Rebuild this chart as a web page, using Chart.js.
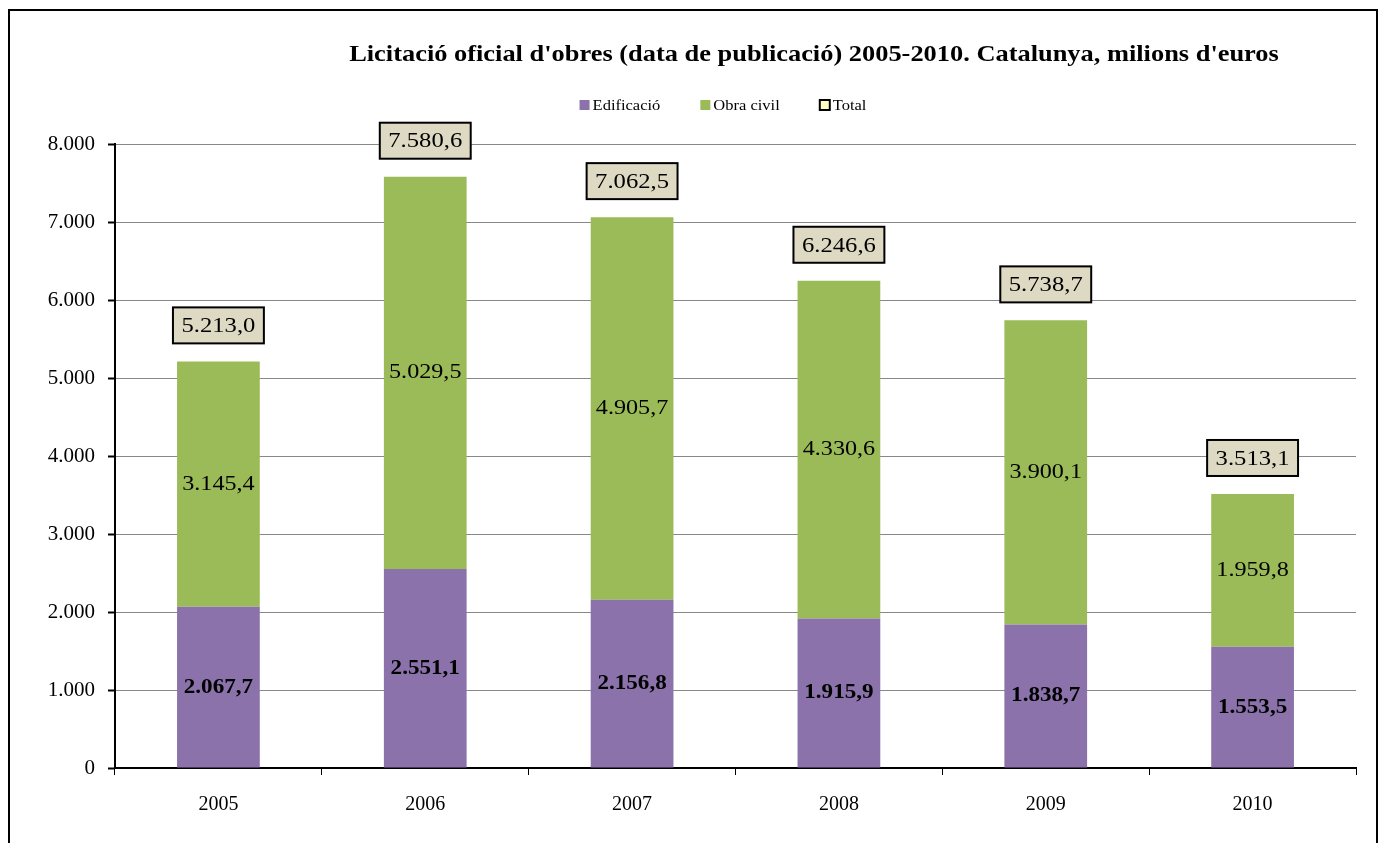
<!DOCTYPE html>
<html><head><meta charset="utf-8">
<script src="https://cdn.jsdelivr.net/npm/chart.js@4/dist/chart.umd.min.js"></script>
<style>html,body{margin:0;padding:0;background:#fff;}#wrap{position:relative;width:1384px;height:843px;}</style>
</head><body><div id="wrap"><canvas id="c" width="1384" height="843"></canvas></div>
<script>
const TITLE = "Licitació oficial d'obres (data de publicació) 2005-2010. Catalunya, milions d'euros";
const categories = ['2005', '2006', '2007', '2008', '2009', '2010'];
const edificacio = [2067.7, 2551.1, 2156.8, 1915.9, 1838.7, 1553.5];
const obraCivil = [3145.4, 5029.5, 4905.7, 4330.6, 3900.1, 1959.8];
const total = [5213.0, 7580.6, 7062.5, 6246.6, 5738.7, 3513.1];
const seriesNames = ['Edificació', 'Obra civil', 'Total'];
const yMin = 0, yMax = 8000, yStep = 1000;

const SERIF = "'Liberation Serif', 'Times New Roman', serif";
const PURPLE = '#8B72AB', GREEN = '#9BBB59', BOXFILL = '#DDD9C3', LEGTOTAL = '#FFFFC4';

function fmtInt(v) { return String(Math.round(v)).replace(/\B(?=(\d{3})+(?!\d))/g, '.'); }
function fmt1(v) { const p = v.toFixed(1).split('.'); return fmtInt(+p[0]) + ',' + p[1]; }

// draws text stretched horizontally (the original chart's text is slightly widened)
function wideText(ctx, t, x, y, sx) {
  ctx.save(); ctx.translate(x, y); ctx.scale(sx, 1); ctx.fillText(t, 0, 0); ctx.restore();
}

const decor = {
  id: 'decor',
  beforeDraw(chart) {
    const ctx = chart.ctx;
    ctx.save();
    ctx.fillStyle = '#fff';
    ctx.fillRect(0, 0, chart.width, chart.height);
    ctx.strokeStyle = '#000'; ctx.lineWidth = 2;
    ctx.strokeRect(9, 10, 1368, 900);
    // title
    ctx.fillStyle = '#000';
    ctx.font = 'bold 24px ' + SERIF;
    ctx.textAlign = 'center'; ctx.textBaseline = 'middle';
    wideText(ctx, TITLE, 814, 55, 1.1);
    // legend
    const sx = 1.1;
    ctx.font = '15px ' + SERIF;
    const ds = chart.data.datasets;
    const box = 10, gap = 3, sp = 40;
    const widths = ds.map(d => box + gap + ctx.measureText(d.label).width * sx);
    const tot = widths.reduce((a, b) => a + b, 0) + sp * (ds.length - 1);
    let x = 723 - tot / 2; const y = 105;
    ctx.textAlign = 'left';
    ds.forEach((d, i) => {
      if (i === 2) {
        ctx.fillStyle = LEGTOTAL; ctx.fillRect(x, y - 5, box, box);
        ctx.lineWidth = 2; ctx.strokeStyle = '#000'; ctx.strokeRect(x, y - 5, box, box);
      } else {
        ctx.fillStyle = d.backgroundColor; ctx.fillRect(x, y - 5, box, box);
      }
      ctx.fillStyle = '#000';
      wideText(ctx, d.label, x + box + gap, y + 1, sx);
      x += widths[i] + sp;
    });
    ctx.restore();
  },
  afterDatasetsDraw(chart) {
    const ctx = chart.ctx;
    ctx.save();
    ctx.textAlign = 'center'; ctx.textBaseline = 'middle'; ctx.fillStyle = '#000';
    const m0 = chart.getDatasetMeta(0), m1 = chart.getDatasetMeta(1), m2 = chart.getDatasetMeta(2);
    ctx.font = 'bold 21px ' + SERIF;
    m0.data.forEach((el, i) => wideText(ctx, fmt1(chart.data.datasets[0].data[i]), el.x, (el.y + el.base) / 2, 1.1));
    ctx.font = '21px ' + SERIF;
    m1.data.forEach((el, i) => wideText(ctx, fmt1(chart.data.datasets[1].data[i]), el.x, (el.y + el.base) / 2, 1.15));
    ctx.font = '22px ' + SERIF;
    m2.data.forEach((el, i) => {
      const t = fmt1(chart.data.datasets[2].data[i]);
      const w = ctx.measureText(t).width * 1.12 + 17, h = 36;
      const cy = el.y - 18 - h / 2;
      ctx.fillStyle = BOXFILL; ctx.fillRect(el.x - w / 2, cy - h / 2, w, h);
      ctx.lineWidth = 2; ctx.strokeStyle = '#000'; ctx.strokeRect(el.x - w / 2, cy - h / 2, w, h);
      ctx.fillStyle = '#000'; wideText(ctx, t, el.x, cy + 1, 1.12);
    });
    ctx.restore();
  }
};

new Chart(document.getElementById('c'), {
  data: {
    labels: categories,
    datasets: [
      { type: 'bar', label: seriesNames[0], data: edificacio, backgroundColor: PURPLE, borderWidth: 0 },
      { type: 'bar', label: seriesNames[1], data: obraCivil, backgroundColor: GREEN, borderWidth: 0 },
      { type: 'line', label: seriesNames[2], data: total, showLine: false, pointRadius: 0, backgroundColor: LEGTOTAL, borderColor: '#000' }
    ]
  },
  options: {
    responsive: false, animation: false, devicePixelRatio: 1,
    layout: { padding: { top: 144, right: 28, bottom: 0, left: 0 } },
    datasets: { bar: { categoryPercentage: 1, barPercentage: 0.4 } },
    plugins: { legend: { display: false }, title: { display: false }, tooltip: { enabled: false } },
    scales: {
      x: {
        stacked: true,
        afterFit(s) { s.height = 75; },
        grid: { offset: true, drawOnChartArea: false, drawTicks: true, tickLength: 7, color: '#000', lineWidth: 1 },
        border: { display: true, color: '#000', width: 2 },
        ticks: { color: '#000', font: { family: SERIF, size: 20 }, padding: 18 }
      },
      y: {
        stacked: true, min: yMin, max: yMax,
        afterFit(s) { s.width = 115; },
        grid: { color: '#888888', lineWidth: 1, borderDash: [2, 2], drawTicks: true, tickLength: 7, tickColor: '#000', tickBorderDash: [], tickWidth: 2 },
        border: { display: true, color: '#000', width: 2 },
        ticks: { stepSize: yStep, color: '#000', font: { family: SERIF, size: 21 }, padding: 13, callback: v => fmtInt(v) }
      }
    }
  },
  plugins: [decor]
});
</script></body></html>
